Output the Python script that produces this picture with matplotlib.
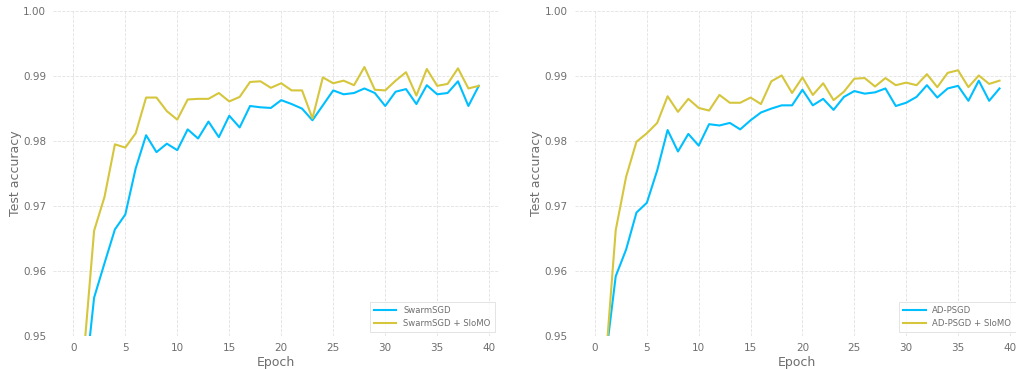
import matplotlib.pyplot as plt

# test accuracy per epoch (0..39)
epochs = list(range(40))

swarm = [0.880, 0.941, 0.9559, 0.9612, 0.9664, 0.9687, 0.9758, 0.9809, 0.9783, 0.9796,
         0.9786, 0.9818, 0.9804, 0.9830, 0.9806, 0.9839, 0.9821, 0.9854, 0.9852, 0.9851,
         0.9863, 0.9857, 0.9850, 0.9832, 0.9855, 0.9878, 0.9872, 0.9874, 0.9881, 0.9874,
         0.9854, 0.9876, 0.9880, 0.9857, 0.9886, 0.9872, 0.9874, 0.9892, 0.9854, 0.9885]
swarm_slomo = [0.900, 0.947, 0.9662, 0.9714, 0.9795, 0.9790, 0.9812, 0.9867, 0.9867, 0.9846,
               0.9833, 0.9864, 0.9865, 0.9865, 0.9874, 0.9861, 0.9868, 0.9891, 0.9892, 0.9882,
               0.9889, 0.9878, 0.9878, 0.9835, 0.9898, 0.9889, 0.9893, 0.9886, 0.9914, 0.9879,
               0.9878, 0.9893, 0.9906, 0.9870, 0.9911, 0.9885, 0.9888, 0.9912, 0.9881, 0.9885]

adpsgd = [0.885, 0.9462, 0.9592, 0.9633, 0.9690, 0.9705, 0.9755, 0.9817, 0.9784, 0.9811,
          0.9793, 0.9826, 0.9824, 0.9828, 0.9818, 0.9832, 0.9844, 0.9850, 0.9855, 0.9855,
          0.9879, 0.9855, 0.9865, 0.9848, 0.9868, 0.9877, 0.9873, 0.9875, 0.9881, 0.9854,
          0.9859, 0.9868, 0.9886, 0.9867, 0.9881, 0.9885, 0.9862, 0.9893, 0.9862, 0.9881]
adpsgd_slomo = [0.895, 0.9454, 0.9663, 0.9745, 0.9799, 0.9812, 0.9828, 0.9869, 0.9845, 0.9865,
                0.9851, 0.9847, 0.9871, 0.9859, 0.9859, 0.9867, 0.9857, 0.9892, 0.9901, 0.9874,
                0.9898, 0.9871, 0.9889, 0.9863, 0.9876, 0.9896, 0.9897, 0.9884, 0.9897, 0.9886,
                0.9890, 0.9886, 0.9903, 0.9883, 0.9905, 0.9909, 0.9883, 0.9901, 0.9888, 0.9893]

BLUE = '#00bfff'
YELLOW = '#d5c63c'
GREY = '#6e6e6e'

panels = [
    (swarm, swarm_slomo, 'SwarmSGD', [0.0522, 0.0919, 0.439, 0.878]),
    (adpsgd, adpsgd_slomo, 'AD-PSGD', [0.5657, 0.0919, 0.438, 0.878]),
]

fig = plt.figure(figsize=(10.16, 3.70), dpi=100)

for base, slomo, name, rect in panels:
    ax = fig.add_axes(rect)
    ax.plot(epochs, base, color=BLUE, lw=1.5, label=name)
    ax.plot(epochs, slomo, color=YELLOW, lw=1.5, label=name + ' + SloMO')
    ax.set_ylim(0.95, 1.0)
    ax.set_xticks([0, 5, 10, 15, 20, 25, 30, 35, 40])
    ax.set_yticks([0.95, 0.96, 0.97, 0.98, 0.99, 1.00])
    ax.set_yticklabels(['0.95', '0.96', '0.97', '0.98', '0.99', '1.00'])
    ax.grid(True, ls='--', lw=0.6, color='#e2e2e2')
    ax.set_axisbelow(True)
    for s in ax.spines.values():
        s.set_visible(False)
    ax.tick_params(length=0, labelsize=7.5, colors=GREY, pad=5)
    ax.set_xlabel('Epoch', fontsize=9, color=GREY, labelpad=2)
    ax.set_ylabel('Test accuracy', fontsize=9, color=GREY, labelpad=1)
    leg = ax.legend(loc='lower right', fontsize=6.1, frameon=True, fancybox=False,
                    borderpad=0.5, handlelength=2.6, labelspacing=0.4)
    leg.get_frame().set_edgecolor('#dddddd')
    leg.get_frame().set_linewidth(0.7)
    for t in leg.get_texts():
        t.set_color(GREY)

fig.savefig('out.png', dpi=100)
